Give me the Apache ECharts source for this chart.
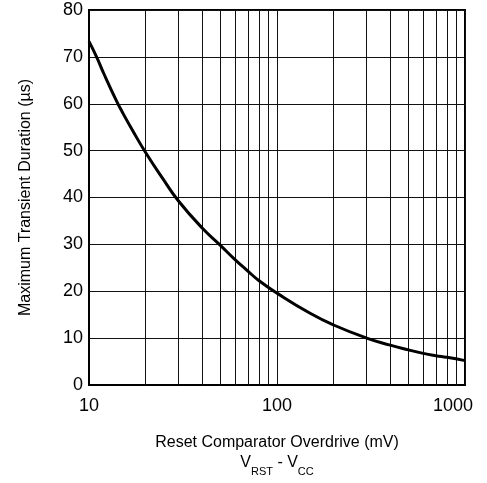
<!DOCTYPE html>
<html>
<head>
<meta charset="utf-8">
<script src="https://cdn.jsdelivr.net/npm/echarts@6/dist/echarts.min.js"></script>
<style>html,body{margin:0;padding:0;background:#fff}#c{width:487px;height:483px}</style>
</head>
<body>
<div id="c"></div>
<script>
var overdrive = [10, 11, 12, 14, 15, 17, 20, 25, 30, 40, 50, 60, 70, 80, 100, 150, 200, 300, 400, 500, 600, 700, 800, 1000];
var duration = [73.3, 69.9, 66.4, 60.6, 58.3, 54.4, 49.6, 43.7, 39.2, 33.5, 29.8, 26.7, 24.3, 22.3, 19.6, 15.3, 12.8, 10.0, 8.5, 7.5, 6.75, 6.25, 5.9, 5.2];
var minorGrid = [20, 30, 40, 50, 60, 70, 80, 90, 200, 300, 400, 500, 600, 700, 800, 900];
var yTicks = [0, 10, 20, 30, 40, 50, 60, 70, 80];

var FONT = 'Liberation Sans, Arial, sans-serif';
var chart = echarts.init(document.getElementById('c'));
chart.setOption({
  animation: false,
  backgroundColor: '#fff',
  grid: { left: 89, right: 22, top: 10, bottom: 98, show: true, borderColor: '#000', borderWidth: 2 },
  xAxis: {
    type: 'log', logBase: 10, min: 10, max: 1000,
    axisLine: { show: true, lineStyle: { color: '#000', width: 2 } },
    axisTick: { show: false },
    splitLine: { show: true, lineStyle: { color: '#111', width: 1 } },
    axisLabel: {
      color: '#000', fontFamily: FONT, fontSize: 18, margin: 12,
      formatter: function (v) { return v >= 1000 ? '{r|' + v + '}' : String(v); },
      rich: { r: { color: '#000', fontFamily: FONT, fontSize: 18, padding: [0, 24, 0, 0] } }
    },
    name: '{a|Reset Comparator Overdrive (mV)}\n{v|V}{s|RST}{v| - V}{s|CC}',
    nameLocation: 'middle', nameGap: 46,
    nameTextStyle: {
      color: '#000', fontFamily: FONT, align: 'center',
      rich: {
        a: { fontFamily: FONT, fontSize: 16, color: '#000', lineHeight: 24, align: 'center' },
        v: { fontFamily: FONT, fontSize: 16, color: '#000', lineHeight: 22, verticalAlign: 'top' },
        s: { fontFamily: FONT, fontSize: 11, color: '#000', lineHeight: 22, verticalAlign: 'bottom', padding: [10, 0, 0, 0] }
      }
    }
  },
  yAxis: {
    type: 'value', min: 0, max: 80, interval: 10,
    axisLine: { show: true, lineStyle: { color: '#000', width: 2 } },
    axisTick: { show: false },
    splitLine: { show: true, lineStyle: { color: '#111', width: 1 } },
    axisLabel: {
      color: '#000', fontFamily: FONT, fontSize: 18, margin: 6,
      formatter: function (v) { return yTicks.indexOf(v) >= 0 ? String(v) : ''; }
    },
    name: 'Maximum Transient Duration (µs)',
    nameLocation: 'middle', nameGap: 55, nameRotate: 90,
    nameTextStyle: { color: '#000', fontFamily: FONT, fontSize: 16 }
  },
  series: [{
    type: 'line',
    data: overdrive.map(function (x, i) { return [x, duration[i]]; }),
    smooth: 0.5, showSymbol: false,
    lineStyle: { color: '#000', width: 3 },
    z: 5,
    markLine: {
      silent: true, symbol: 'none', label: { show: false },
      lineStyle: { color: '#111', width: 1, type: 'solid' },
      data: minorGrid.map(function (v) { return { xAxis: v }; })
    }
  }]
});
</script>
</body>
</html>
